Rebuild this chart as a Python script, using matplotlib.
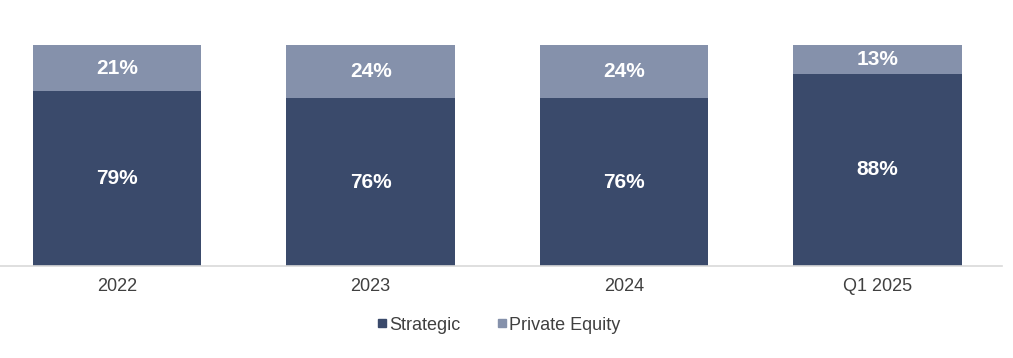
import numpy as np
import matplotlib.pyplot as plt
from matplotlib.lines import Line2D

plt.rcParams['font.family'] = ['Liberation Sans', 'DejaVu Sans']

# data (share of deals, %)
categories = ['2022', '2023', '2024', 'Q1 2025']
strategic = [79, 76, 76, 88]
private_equity = [21, 24, 24, 13]

c_strat = '#3A4A6B'
c_pe = '#8591AB'

s = np.array(strategic, dtype=float)
p = np.array(private_equity, dtype=float)
tot = s + p
s_h = s / tot * 100
p_h = p / tot * 100

fig = plt.figure(figsize=(10.13, 3.58), dpi=100)
ax = fig.add_axes([0.0, 0.257, 0.989, 0.617])

x = np.arange(len(categories))
w = 0.664
ax.bar(x, s_h, width=w, color=c_strat, edgecolor='none')
ax.bar(x, p_h, width=w, bottom=s_h, color=c_pe, edgecolor='none')

for i in range(len(x)):
    ax.text(x[i], s_h[i] / 2, f'{strategic[i]}%', ha='center', va='center',
            color='white', fontsize=15, fontweight='bold')
    ax.text(x[i], s_h[i] + p_h[i] / 2, f'{private_equity[i]}%', ha='center', va='center',
            color='white', fontsize=15, fontweight='bold')

ax.set_xlim(-0.462, 3.49)
ax.set_ylim(0, 100)
ax.set_xticks(x)
ax.set_xticklabels(categories, fontsize=13, color='#404040')
ax.tick_params(axis='x', length=0, pad=9)
ax.set_yticks([])
for sp in ['top', 'right', 'left']:
    ax.spines[sp].set_visible(False)
ax.spines['bottom'].set_color('#D9D9D9')
ax.spines['bottom'].set_linewidth(1.2)

handles = [Line2D([], [], marker='s', linestyle='none', color=c_strat, markersize=6),
           Line2D([], [], marker='s', linestyle='none', color=c_pe, markersize=6)]
fig.legend(handles, ['Strategic', 'Private Equity'], loc='center', bbox_to_anchor=(0.49, 0.092),
           ncol=2, frameon=False, fontsize=13, handletextpad=-0.1, columnspacing=1.8,
           labelcolor='#404040', handlelength=1.0)

fig.savefig('out.png', dpi=100)
